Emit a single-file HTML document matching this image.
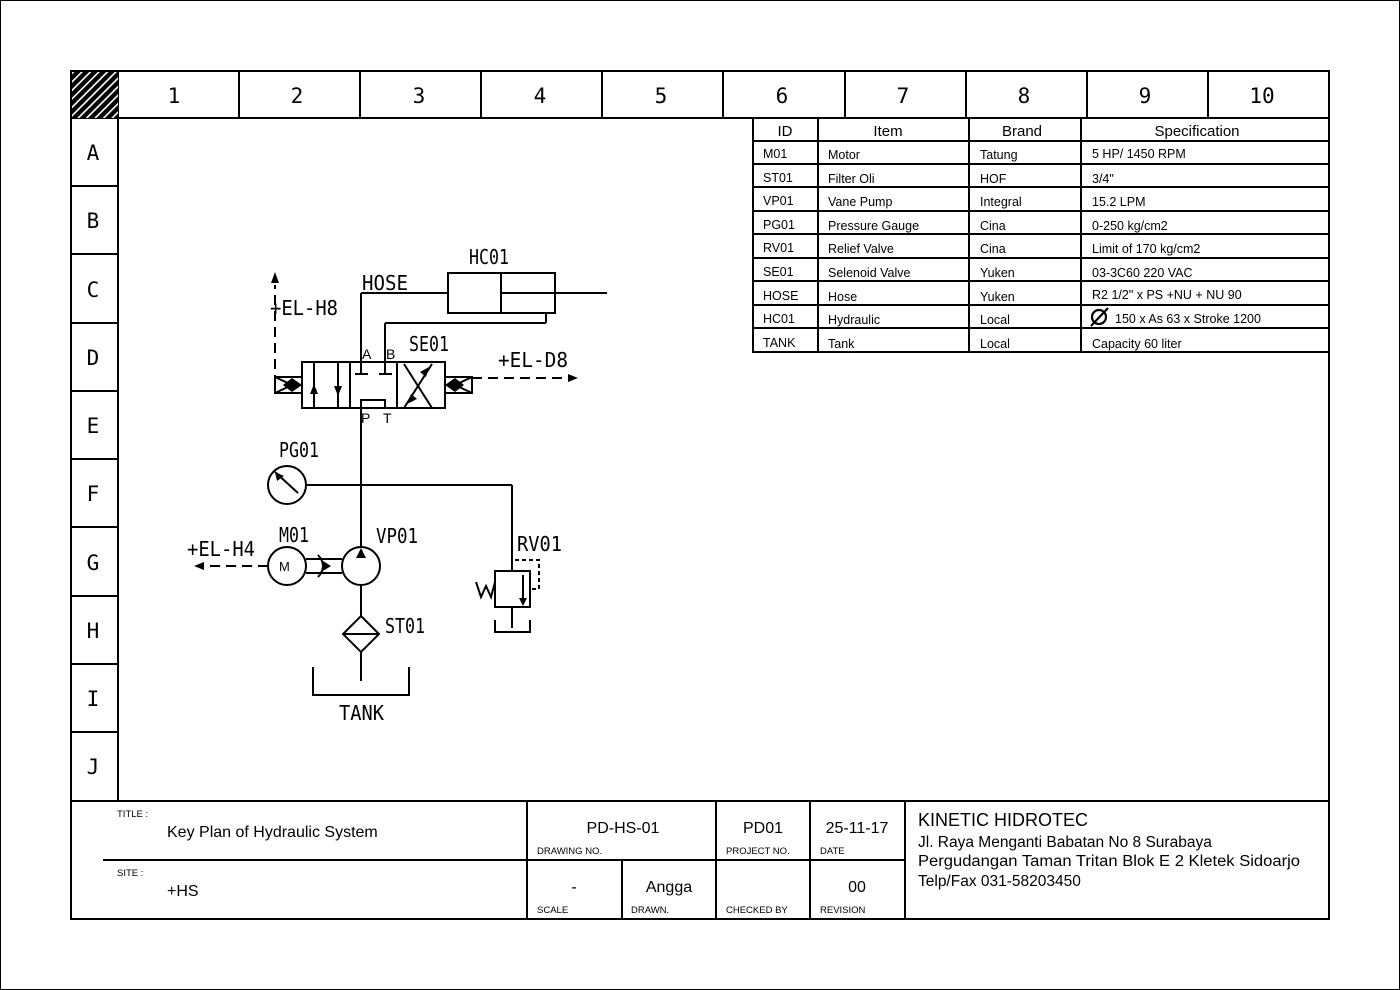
<!DOCTYPE html>
<html><head><meta charset="utf-8"><style>
html,body{margin:0;padding:0;background:#fff}
svg{display:block}
text{font-family:"Liberation Sans",sans-serif;fill:#000}
.m{font-family:"DejaVu Sans Mono","Liberation Mono",monospace}
</style></head><body>
<svg width="1400" height="990" viewBox="0 0 1400 990" xmlns="http://www.w3.org/2000/svg">
<defs>
<pattern id="h" width="6" height="6" patternUnits="userSpaceOnUse" patternTransform="rotate(45)">
<rect width="6" height="6" fill="#000"/><rect x="0" y="0" width="1.6" height="6" fill="#fff"/>
</pattern>
</defs>
<rect x="0.5" y="0.5" width="1399" height="989" fill="#fff" stroke="#000"/>
<g stroke="#000" fill="none" stroke-width="2">
<rect x="71" y="71" width="1258" height="848"/>
<line x1="71" y1="118" x2="1329" y2="118"/>
<line x1="118" y1="71" x2="118" y2="800"/>
<line x1="71" y1="801" x2="1329" y2="801"/>
<line x1="239" y1="71" x2="239" y2="118"/><line x1="360" y1="71" x2="360" y2="118"/>
<line x1="481" y1="71" x2="481" y2="118"/><line x1="602" y1="71" x2="602" y2="118"/>
<line x1="723" y1="71" x2="723" y2="118"/><line x1="845" y1="71" x2="845" y2="118"/>
<line x1="966" y1="71" x2="966" y2="118"/><line x1="1087" y1="71" x2="1087" y2="118"/>
<line x1="1208" y1="71" x2="1208" y2="118"/>
<line x1="71" y1="186" x2="118" y2="186"/><line x1="71" y1="254" x2="118" y2="254"/>
<line x1="71" y1="323" x2="118" y2="323"/><line x1="71" y1="391" x2="118" y2="391"/>
<line x1="71" y1="459" x2="118" y2="459"/><line x1="71" y1="527" x2="118" y2="527"/>
<line x1="71" y1="596" x2="118" y2="596"/><line x1="71" y1="664" x2="118" y2="664"/>
<line x1="71" y1="732" x2="118" y2="732"/>
<line x1="103" y1="860" x2="905" y2="860"/>
<line x1="527" y1="801" x2="527" y2="919"/><line x1="716" y1="801" x2="716" y2="919"/>
<line x1="810" y1="801" x2="810" y2="919"/><line x1="905" y1="801" x2="905" y2="919"/>
<line x1="622" y1="860" x2="622" y2="919"/>
</g>
<rect x="72" y="72" width="46" height="46" fill="url(#h)"/>
<g font-size="21" text-anchor="middle" class="m">
<text x="174" y="103" class="m">1</text><text x="297" y="103" class="m">2</text><text x="419" y="103" class="m">3</text>
<text x="540" y="103" class="m">4</text><text x="661" y="103" class="m">5</text><text x="782" y="103" class="m">6</text>
<text x="903" y="103" class="m">7</text><text x="1024" y="103" class="m">8</text><text x="1145" y="103" class="m">9</text>
<text x="1262" y="103" class="m">10</text>
<text x="93" y="160" class="m">A</text><text x="93" y="228" class="m">B</text><text x="93" y="297" class="m">C</text>
<text x="93" y="365" class="m">D</text><text x="93" y="433" class="m">E</text><text x="93" y="501" class="m">F</text>
<text x="93" y="570" class="m">G</text><text x="93" y="638" class="m">H</text><text x="93" y="706" class="m">I</text>
<text x="93" y="774" class="m">J</text>
</g>
<g stroke="#000" stroke-width="2" fill="none">
<rect x="753" y="118" width="576" height="234"/>
<line x1="818" y1="118" x2="818" y2="352"/><line x1="969" y1="118" x2="969" y2="352"/><line x1="1081" y1="118" x2="1081" y2="352"/>
<line x1="753" y1="141" x2="1329" y2="141"/><line x1="753" y1="164" x2="1329" y2="164"/>
<line x1="753" y1="187" x2="1329" y2="187"/><line x1="753" y1="211" x2="1329" y2="211"/>
<line x1="753" y1="234" x2="1329" y2="234"/><line x1="753" y1="258" x2="1329" y2="258"/>
<line x1="753" y1="281" x2="1329" y2="281"/><line x1="753" y1="305" x2="1329" y2="305"/>
<line x1="753" y1="328" x2="1329" y2="328"/>
</g>
<g font-size="15" text-anchor="middle">
<text x="785" y="136">ID</text><text x="888" y="136">Item</text><text x="1022" y="136">Brand</text><text x="1197" y="136">Specification</text>
</g>
<g font-size="12.5">
<text x="763" y="158">M01</text><text x="828" y="159">Motor</text><text x="980" y="159">Tatung</text><text x="1092" y="158">5 HP/ 1450 RPM</text>
<text x="763" y="182">ST01</text><text x="828" y="183">Filter Oli</text><text x="980" y="183">HOF</text><text x="1092" y="183">3/4"</text>
<text x="763" y="205">VP01</text><text x="828" y="206">Vane Pump</text><text x="980" y="206">Integral</text><text x="1092" y="206">15.2 LPM</text>
<text x="763" y="229">PG01</text><text x="828" y="230">Pressure Gauge</text><text x="980" y="230">Cina</text><text x="1092" y="230">0-250 kg/cm2</text>
<text x="763" y="252">RV01</text><text x="828" y="253">Relief Valve</text><text x="980" y="253">Cina</text><text x="1092" y="253">Limit of 170 kg/cm2</text>
<text x="763" y="276">SE01</text><text x="828" y="277">Selenoid Valve</text><text x="980" y="277">Yuken</text><text x="1092" y="277">03-3C60 220 VAC</text>
<text x="763" y="300">HOSE</text><text x="828" y="301">Hose</text><text x="980" y="301">Yuken</text><text x="1092" y="299">R2 1/2" x PS +NU + NU 90</text>
<text x="763" y="323">HC01</text><text x="828" y="324">Hydraulic</text><text x="980" y="324">Local</text><text x="1115" y="323">150 x As 63 x Stroke 1200</text>
<text x="763" y="347">TANK</text><text x="828" y="348">Tank</text><text x="980" y="348">Local</text><text x="1092" y="348">Capacity 60 liter</text>
</g>
<g stroke="#000" stroke-width="2.2" fill="none"><circle cx="1099" cy="317" r="7"/><line x1="1091" y1="326" x2="1108" y2="308"/></g>
<g stroke="#000" stroke-width="2" fill="none">
<rect x="302" y="362" width="143" height="46"/>
<line x1="350" y1="362" x2="350" y2="408"/><line x1="397" y1="362" x2="397" y2="408"/>
<line x1="314" y1="362" x2="314" y2="408"/><line x1="338" y1="362" x2="338" y2="408"/>
<line x1="404" y1="408" x2="432" y2="364"/><line x1="404" y1="364" x2="432" y2="408"/>
<rect x="275" y="377" width="27" height="16"/><rect x="445" y="377" width="27" height="16"/>
<line x1="275" y1="377" x2="292" y2="385"/><line x1="275" y1="393" x2="292" y2="385"/>
<line x1="472" y1="377" x2="455" y2="385"/><line x1="472" y1="393" x2="455" y2="385"/>
<line x1="361" y1="293" x2="361" y2="374"/><line x1="355" y1="374" x2="368" y2="374"/>
<line x1="385" y1="323" x2="385" y2="374"/><line x1="379" y1="374" x2="392" y2="374"/>
<line x1="361" y1="293" x2="448" y2="293"/>
<line x1="385" y1="323" x2="546" y2="323"/><line x1="546" y1="323" x2="546" y2="313"/>
<rect x="448" y="273" width="107" height="40"/><line x1="501" y1="273" x2="501" y2="313"/>
<line x1="501" y1="293" x2="607" y2="293"/>
<polyline points="361,425 361,400 385,400 385,408"/>
<line x1="361" y1="408" x2="361" y2="547"/>
<circle cx="361" cy="566" r="19"/><circle cx="287" cy="566" r="19"/><circle cx="287" cy="485" r="19"/>
<line x1="306" y1="485" x2="512" y2="485"/><line x1="512" y1="485" x2="512" y2="571"/>
<line x1="275" y1="472" x2="298" y2="493"/>
<line x1="306" y1="559" x2="342" y2="559"/><line x1="306" y1="573" x2="342" y2="573"/>
<path d="M318 555 Q328 566 318 577"/>
<line x1="361" y1="585" x2="361" y2="616"/>
<polygon points="361,616 379,634 361,652 343,634"/><line x1="343" y1="634" x2="379" y2="634"/>
<line x1="361" y1="652" x2="361" y2="681"/>
<polyline points="313,667 313,695 409,695 409,667"/>
<rect x="495" y="571" width="35" height="36"/>
<line x1="523" y1="575" x2="523" y2="603"/>
<polyline points="512,571 512,560 539,560 539,589 530,589" stroke-dasharray="4,3"/>
<line x1="512" y1="607" x2="512" y2="628"/>
<polyline points="495,620 495,632 530,632 530,620"/>
<polyline points="476,582 481,597 486,586 491,597 495,582"/>
<line x1="275" y1="385" x2="275" y2="285" stroke-dasharray="10,6"/>
<line x1="472" y1="378" x2="570" y2="378" stroke-dasharray="10,6"/>
<line x1="268" y1="566" x2="202" y2="566" stroke-dasharray="10,6"/>
</g>
<g fill="#000">
<polygon points="275,272 271,283 279,283"/>
<polygon points="578,378 568,374 568,382"/>
<polygon points="194,566 204,562 204,570"/>
<polygon points="361,548 356,558 366,558"/>
<polygon points="331,566 323,561 323,571"/>
<polygon points="314,384 310,394 318,394"/><polygon points="338,396 334,386 342,386"/>
<polygon points="429,367 420,372 426,377"/><polygon points="407,404 411,394 417,399"/>
<polygon points="283,385 292,378 302,385 292,392"/><polygon points="464,385 455,378 445,385 455,392"/>
<polygon points="523,606 519,598 527,598"/>
<polygon points="275,472 277,481 284,476"/>
</g>
<g font-size="20" class="m">
<text x="469" y="264" class="m" textLength="40" lengthAdjust="spacingAndGlyphs">HC01</text>
<text x="362" y="290" class="m" textLength="46" lengthAdjust="spacingAndGlyphs">HOSE</text>
<text x="270" y="315" class="m" textLength="68" lengthAdjust="spacingAndGlyphs">+EL-H8</text>
<text x="409" y="351" class="m" textLength="40" lengthAdjust="spacingAndGlyphs">SE01</text>
<text x="498" y="367" class="m" textLength="70" lengthAdjust="spacingAndGlyphs">+EL-D8</text>
<text x="279" y="457" class="m" textLength="40" lengthAdjust="spacingAndGlyphs">PG01</text>
<text x="279" y="542" class="m" textLength="30" lengthAdjust="spacingAndGlyphs">M01</text>
<text x="376" y="543" class="m" textLength="42" lengthAdjust="spacingAndGlyphs">VP01</text>
<text x="187" y="556" class="m" textLength="68" lengthAdjust="spacingAndGlyphs">+EL-H4</text>
<text x="517" y="551" class="m" textLength="45" lengthAdjust="spacingAndGlyphs">RV01</text>
<text x="385" y="633" class="m" textLength="40" lengthAdjust="spacingAndGlyphs">ST01</text>
<text x="339" y="720" class="m" textLength="45" lengthAdjust="spacingAndGlyphs">TANK</text>
</g>
<g font-size="14"><text x="362" y="359">A</text><text x="386" y="359">B</text><text x="361" y="423">P</text><text x="383" y="423">T</text>
<text x="279" y="571" font-size="13">M</text></g>
<g font-size="9.5"><text x="117" y="817">TITLE :</text><text x="117" y="876">SITE :</text>
<text x="537" y="854">DRAWING NO.</text><text x="726" y="854">PROJECT NO.</text><text x="820" y="854">DATE</text>
<text x="537" y="913">SCALE</text><text x="631" y="913">DRAWN.</text><text x="726" y="913">CHECKED BY</text><text x="820" y="913">REVISION</text></g>
<g font-size="16"><text x="167" y="837">Key Plan of Hydraulic System</text><text x="167" y="896">+HS</text>
<text x="623" y="833" text-anchor="middle">PD-HS-01</text><text x="763" y="833" text-anchor="middle">PD01</text>
<text x="857" y="833" text-anchor="middle">25-11-17</text><text x="574" y="892" text-anchor="middle">-</text>
<text x="669" y="892" text-anchor="middle">Angga</text><text x="857" y="892" text-anchor="middle">00</text></g>
<text x="918" y="826" font-size="18">KINETIC HIDROTEC</text>
<g font-size="15.5"><text x="918" y="847">Jl. Raya Menganti Babatan No 8 Surabaya</text>
<text x="918" y="866" textLength="382" lengthAdjust="spacingAndGlyphs">Pergudangan Taman Tritan Blok E 2 Kletek Sidoarjo</text>
<text x="918" y="886">Telp/Fax 031-58203450</text></g>
</svg>
</body></html>
